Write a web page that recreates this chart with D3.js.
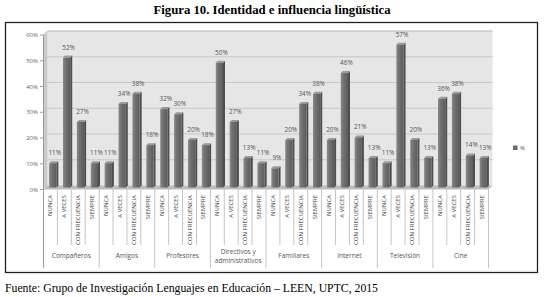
<!DOCTYPE html>
<html>
<head>
<meta charset="utf-8">
<script src="https://cdn.jsdelivr.net/npm/d3@7"></script>
<style>
  body { margin: 0; background: #fff; }
  svg { display: block; }
</style>
</head>
<body>
<div id="chart"></div>
<script>
// data
const groups = ["Compañeros", "Amigos", "Profesores", "Directivos y administrativos",
                "Familiares", "Internet", "Televisión", "Cine"];
const answers = ["NUNCA", "A VECES", "CON FRECUENCIA", "SIEMPRE"];
const values = [
    [11, 52, 27, 11],
    [11, 34, 38, 18],
    [32, 30, 20, 18],
    [50, 27, 13, 11],
    [9, 20, 34, 38],
    [20, 46, 21, 13],
    [11, 57, 20, 13],
    [36, 38, 14, 13]
];
const yTicks = [0, 10, 20, 30, 40, 50, 60];

// flat rows, one per bar
let rows = [];
groups.forEach(function(g, gi) {
    answers.forEach(function(a, ai) {
        rows.push({id: gi + "-" + ai, group: g, answer: a, value: values[gi][ai]});
    });
});

const W = 544, H = 297;
const svg = d3.select("#chart").append("svg")
    .attr("width", W).attr("height", H);

// title
svg.append("text")
    .attr("x", 272).attr("y", 14)
    .attr("text-anchor", "middle")
    .attr("font-family", "Liberation Serif")
    .attr("font-weight", "bold")
    .attr("font-size", 13.5)
    .attr("textLength", 237).attr("lengthAdjust", "spacingAndGlyphs")
    .text("Figura 10. Identidad e influencia lingüística");

// frame
svg.append("rect")
    .attr("x", 5.5).attr("y", 22.5).attr("width", 532).attr("height", 250)
    .attr("fill", "#fff").attr("stroke", "#222").attr("stroke-width", 1.3);

// footer
svg.append("text")
    .attr("x", 5).attr("y", 292)
    .attr("font-family", "Liberation Serif")
    .attr("font-size", 12.5)
    .attr("textLength", 373).attr("lengthAdjust", "spacingAndGlyphs")
    .text("Fuente: Grupo de Investigación Lenguajes en Educación – LEEN, UPTC, 2015");

// 3d depth offset
const dx = 4, dy = -4;
const floorY = 189.5;

const y = d3.scaleLinear().domain([0, 60]).range([floorY, 35]);
const xFront = d3.scaleBand().domain(rows.map(d => d.id)).range([43.5, 488.5]);
const x = d3.scaleBand().domain(rows.map(d => d.id)).range([43.5 + dx, 488.5 + dx]).paddingInner(0.48).paddingOuter(0.26);

// back wall
svg.append("rect")
    .attr("x", 43.5 + dx).attr("y", y(60) + dy)
    .attr("width", 445).attr("height", floorY - y(60))
    .attr("fill", "#e6e6e7");
svg.append("line")
    .attr("x1", 43.5 + dx).attr("x2", 488.5 + dx)
    .attr("y1", y(60) + dy).attr("y2", y(60) + dy)
    .attr("stroke", "#d0d0d0");

// side wall
svg.append("path")
    .attr("d", `M43.5,${y(60)} L${43.5 + dx},${y(60) + dy} L${43.5 + dx},${floorY + dy} L43.5,${floorY} Z`)
    .attr("fill", "#c9c9c9");

// grid lines
svg.selectAll(".grid").data(yTicks.slice(1)).enter().append("path")
    .attr("class", "grid")
    .attr("d", d => `M43.5,${y(d)} L${43.5 + dx},${y(d) + dy} L${488.5 + dx},${y(d) + dy}`)
    .attr("fill", "none").attr("stroke", "#c4c4c4").attr("stroke-width", 0.9);

// floor
svg.append("path")
    .attr("d", `M43.5,${floorY} L${43.5 + dx},${floorY + dy} L${488.5 + dx},${floorY + dy} L488.5,${floorY} Z`)
    .attr("fill", "#bcbcbc");

// y axis
svg.append("line")
    .attr("x1", 43.5).attr("x2", 43.5).attr("y1", y(60)).attr("y2", 268)
    .attr("stroke", "#9a9a9a");
svg.selectAll(".tick").data(yTicks).enter().append("line")
    .attr("x1", 40).attr("x2", 43.5)
    .attr("y1", d => y(d)).attr("y2", d => y(d))
    .attr("stroke", "#9a9a9a");
svg.selectAll(".ylab").data(yTicks).enter().append("text")
    .attr("x", 38).attr("y", d => y(d) + 2)
    .attr("text-anchor", "end")
    .attr("font-family", "Open Sans").attr("font-size", 6)
    .attr("fill", "#666")
    .text(d => d + "%");

// bars
const defs = svg.append("defs");
const grad = defs.append("linearGradient").attr("id", "barGrad");
grad.append("stop").attr("offset", "0%").attr("stop-color", "#8a8a8a");
grad.append("stop").attr("offset", "35%").attr("stop-color", "#727272");
grad.append("stop").attr("offset", "100%").attr("stop-color", "#5c5c5c");

const bw = x.bandwidth();
const bars = svg.selectAll(".bar").data(rows).enter().append("g").attr("class", "bar");
const sx = d => x(d.id) - dx / 2;
const sy = d => y(d.value) - dy / 2;
bars.append("path")
    .attr("d", d => `M${sx(d) + bw},${sy(d)} L${sx(d) + bw + 2},${sy(d) - 2} L${sx(d) + bw + 2},${floorY + dy / 2 - 2} L${sx(d) + bw},${floorY + dy / 2} Z`)
    .attr("fill", "#4e4e4e");
bars.append("path")
    .attr("d", d => `M${sx(d)},${sy(d)} L${sx(d) + 2},${sy(d) - 2} L${sx(d) + bw + 2},${sy(d) - 2} L${sx(d) + bw},${sy(d)} Z`)
    .attr("fill", "#9a9a9a");
bars.append("rect")
    .attr("x", sx).attr("y", sy)
    .attr("width", bw)
    .attr("height", d => floorY + dy / 2 - sy(d))
    .attr("fill", "url(#barGrad)");

// value labels
svg.selectAll(".val").data(rows).enter().append("text")
    .attr("x", d => x(d.id) + bw / 2)
    .attr("y", d => y(d.value) - 6)
    .attr("text-anchor", "middle")
    .attr("font-family", "Open Sans").attr("font-size", 6.4)
    .attr("fill", "#555")
    .text(d => d.value + "%");

// category table
svg.selectAll(".sep").data(rows).enter().append("line")
    .attr("x1", d => xFront(d.id) + xFront.bandwidth())
    .attr("x2", d => xFront(d.id) + xFront.bandwidth())
    .attr("y1", floorY)
    .attr("y2", (d, i) => (i % 4 === 3 ? 268 : 245))
    .attr("stroke", "#b5b5b5").attr("stroke-width", 0.8);

svg.selectAll(".cat").data(rows).enter().append("text")
    .attr("transform", d => `translate(${xFront(d.id) + xFront.bandwidth() / 2 + 2},195) rotate(-90)`)
    .attr("text-anchor", "end")
    .attr("font-family", "Open Sans").attr("font-size", 6)
    .attr("fill", "#444")
    .text(d => d.answer);

const gText = svg.selectAll(".grp").data(groups).enter().append("text")
    .attr("x", (d, i) => (xFront(i + "-0") + xFront(i + "-3") + xFront.bandwidth()) / 2)
    .attr("y", d => (d.indexOf(" y ") > 0 ? 254 : 258))
    .attr("text-anchor", "middle")
    .attr("font-family", "Open Sans").attr("font-size", 6.5)
    .attr("fill", "#555");
gText.each(function(d) {
    let el = d3.select(this);
    let parts = d.indexOf(" y ") > 0 ? ["Directivos y", "administrativos"] : [d];
    parts.forEach(function(p, i) {
        el.append("tspan").attr("x", el.attr("x")).attr("dy", i === 0 ? 0 : 8.5).text(p);
    });
});

// legend
svg.append("rect")
    .attr("x", 513).attr("y", 145.5).attr("width", 4.5).attr("height", 4.5)
    .attr("fill", "#6a6a6a");
svg.append("text")
    .attr("x", 520).attr("y", 150)
    .attr("font-family", "Open Sans").attr("font-size", 6)
    .attr("fill", "#555")
    .text("%");
</script>
</body>
</html>
